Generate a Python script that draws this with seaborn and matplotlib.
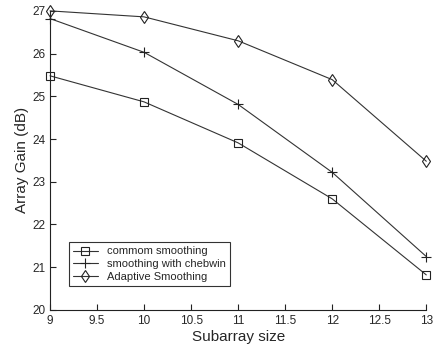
import matplotlib
matplotlib.use("Agg")
import matplotlib.pyplot as plt
import pandas as pd
import seaborn as sns

subarray = [9, 10, 11, 12, 13]
common = [25.48, 24.87, 23.91, 22.60, 20.82]
chebwin = [26.82, 26.03, 24.81, 23.22, 21.25]
adaptive = [27.0, 26.86, 26.30, 25.39, 23.48]

names = ["commom smoothing", "smoothing with chebwin", "Adaptive Smoothing"]
markers = {"commom smoothing": "s", "smoothing with chebwin": "+", "Adaptive Smoothing": "d"}
msizes = {"commom smoothing": 6, "smoothing with chebwin": 7, "Adaptive Smoothing": 6}

df = pd.concat(
    [pd.DataFrame({"x": subarray, "y": vals, "method": name})
     for name, vals in zip(names, [common, chebwin, adaptive])],
    ignore_index=True,
)

sns.set_style("ticks")
plt.rcParams["font.family"] = ["Liberation Sans", "DejaVu Sans"]

fig = plt.figure(figsize=(4.35, 3.51), dpi=100)
ax = fig.add_axes([0.115, 0.117, 0.865, 0.852])

for name in names:
    sub = df[df["method"] == name]
    sns.lineplot(
        data=sub, x="x", y="y", ax=ax, label=name,
        color="#333333", linewidth=0.8, marker=markers[name],
        markersize=msizes[name], clip_on=False,
        markerfacecolor="none", markeredgecolor="#222222", markeredgewidth=0.8,
    )

ax.set_xlim(9, 13)
ax.set_ylim(20, 27)
ax.set_xticks([9, 9.5, 10, 10.5, 11, 11.5, 12, 12.5, 13])
ax.set_xticklabels(["9", "9.5", "10", "10.5", "11", "11.5", "12", "12.5", "13"])
ax.set_yticks(range(20, 28))
ax.tick_params(direction="in", labelsize=8.5, length=4, width=0.8, color="#222222")
for s in ["top", "right"]:
    ax.spines[s].set_visible(False)
for s in ["left", "bottom"]:
    ax.spines[s].set_color("#222222")
    ax.spines[s].set_linewidth(0.8)

ax.set_xlabel("Subarray size", fontsize=11, labelpad=2)
ax.set_ylabel("Array Gain (dB)", fontsize=11, labelpad=2)

leg = ax.legend(loc="lower left", bbox_to_anchor=(0.035, 0.06), fontsize=8,
                frameon=True, fancybox=False, edgecolor="black",
                handlelength=2.2, borderpad=0.4, labelspacing=0.25)
leg.get_frame().set_linewidth(0.8)

fig.savefig("out.png", dpi=100)
